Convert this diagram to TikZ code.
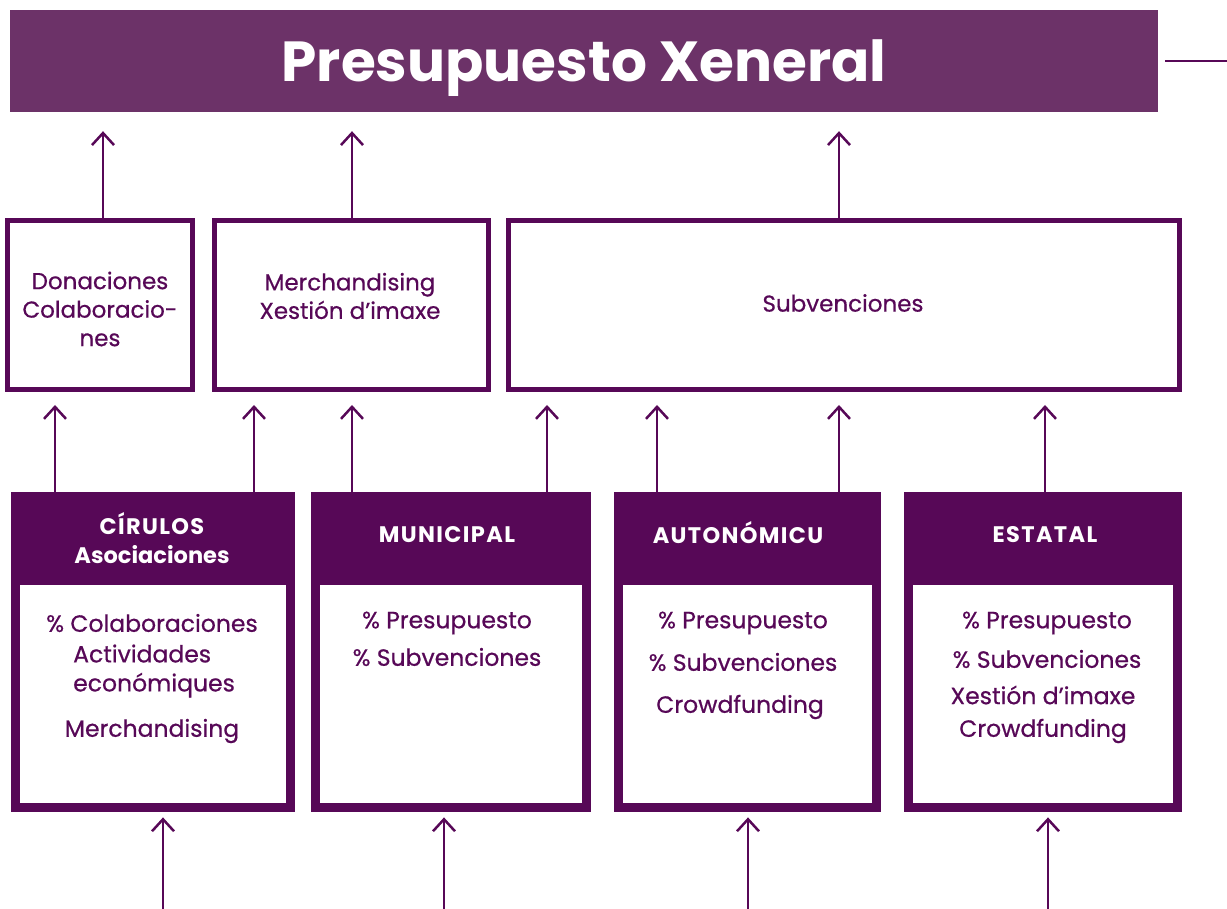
\documentclass[tikz,border=0pt]{standalone}
\usepackage{fontspec}
\setmainfont{Poppins}
\newfontfamily\medfont{Poppins}[FakeBold=0.6]
\newfontfamily\capsfont{Poppins}[LetterSpace=6]
\usetikzlibrary{arrows.meta}
\definecolor{dpurple}{RGB}{87,8,87}
\definecolor{tpurple}{RGB}{108,50,104}
\tikzset{
 conn/.style={draw=dpurple, line width=2.5pt},
 arr/.style={conn, -{Straight Barb[length=12pt,width=22pt]}},
 midbox/.style={draw=dpurple, line width=5pt, fill=white, inner sep=0pt, minimum height=169pt},
 outerbox/.style={fill=dpurple, inner sep=0pt, anchor=north west},
 innerbox/.style={fill=white, inner sep=0pt, anchor=north west},
 midtxt/.style={text=dpurple, font=\medfont\fontsize{23}{28.5}\selectfont, align=center, inner sep=0pt},
 hdtxt/.style={text=white, font=\bfseries\fontsize{22.5}{29}\selectfont, align=center, inner sep=0pt},
 hdcaps/.style={text=white, font=\capsfont\bfseries\fontsize{22.5}{29}\selectfont, align=center, inner sep=0pt},
 bodytxt/.style={text=dpurple, font=\medfont\fontsize{23.5}{29}\selectfont, align=center, inner sep=0pt},
}
\begin{document}
\begin{tikzpicture}[x=1pt,y=-1pt]
\useasboundingbox (0,0) rectangle (1227,909);
% title
\node[fill=tpurple, inner sep=0pt, minimum width=1148pt, minimum height=102pt] (title) at (584,61) {};
\node[text=white, font=\bfseries\fontsize{56.5}{60}\selectfont, inner sep=0pt] (titletxt) at (584,68) {Presupuesto Xeneral};
\coordinate (stubend) at (1227,61);
\draw[conn] ([xshift=7pt]title.east) -- (stubend);

% middle boxes
\node[midbox, minimum width=185pt] (don) at (100,305) {};
\node[midbox, minimum width=274pt] (mer) at (351.5,305) {};
\node[midbox, minimum width=671pt] (sub) at (844,305) {};
\node[midtxt] (dontxt) at (100,309) {Donaciones\\Colaboracio-\\nes};
\node[midtxt] (mertxt) at (350,296) {Merchandising\\Xestión d’imaxe};
\node[midtxt] (subtxt) at (843,303) {Subvenciones};

% arrows middle -> title
\draw[arr, shorten >=19pt] (103,0 |- don.north) -- (103,0 |- title.south);
\draw[arr, shorten >=19pt] (352,0 |- mer.north) -- (352,0 |- title.south);
\draw[arr, shorten >=19pt] (839,0 |- sub.north) -- (839,0 |- title.south);

% bottom boxes
\node[outerbox, minimum width=284pt, minimum height=320pt] (b1) at (11,492) {};
\node[innerbox, minimum width=266pt, minimum height=218pt] (i1) at (20,585) {};
\node[outerbox, minimum width=280pt, minimum height=320pt] (b2) at (311,492) {};
\node[innerbox, minimum width=262pt, minimum height=218pt] (i2) at (320,585) {};
\node[outerbox, minimum width=267pt, minimum height=320pt] (b3) at (614,492) {};
\node[innerbox, minimum width=249pt, minimum height=218pt] (i3) at (623,585) {};
\node[outerbox, minimum width=278pt, minimum height=320pt] (b4) at (904,492) {};
\node[innerbox, minimum width=260pt, minimum height=218pt] (i4) at (913,585) {};

% headers
\node[hdtxt] (h1) at (152,538) {{\capsfont\bfseries CÍRULOS}\\Asociaciones};
\node[hdcaps] (h2) at (447,535) {MUNICIPAL};
\node[hdcaps] (h3) at (738,533) {AUTONÓMICU};
\node[hdcaps] (h4) at (1045,535) {ESTATAL};

% body texts
\node[bodytxt] (t1a) at (152,623) {\% Colaboraciones};
\node[bodytxt, align=left, anchor=west] (t1b) at (73,671) {Actividades\\económiques};
\node[bodytxt] (t1c) at (152,731) {Merchandising};
\node[bodytxt] (t2a) at (447,623) {\% Presupuesto};
\node[bodytxt] (t2b) at (447,657) {\% Subvenciones};
\node[bodytxt] (t3a) at (743,623) {\% Presupuesto};
\node[bodytxt] (t3b) at (743,662) {\% Subvenciones};
\node[bodytxt] (t3c) at (740,707) {Crowdfunding};
\node[bodytxt] (t4a) at (1047,623) {\% Presupuesto};
\node[bodytxt] (t4b) at (1047,659) {\% Subvenciones};
\node[bodytxt] (t4c) at (1043,695) {Xestión d’imaxe};
\node[bodytxt] (t4d) at (1043,731) {Crowdfunding};

% arrows bottom -> middle
\draw[arr, shorten >=13pt] (55,0 |- b1.north) -- (55,0 |- don.south);
\draw[arr, shorten >=13pt] (254,0 |- b1.north) -- (254,0 |- mer.south);
\draw[arr, shorten >=13pt] (352,0 |- b2.north) -- (352,0 |- mer.south);
\draw[arr, shorten >=13pt] (547,0 |- b2.north) -- (547,0 |- sub.south);
\draw[arr, shorten >=13pt] (657,0 |- b3.north) -- (657,0 |- sub.south);
\draw[arr, shorten >=13pt] (839,0 |- b3.north) -- (839,0 |- sub.south);
\draw[arr, shorten >=13pt] (1045,0 |- b4.north) -- (1045,0 |- sub.south);

% incoming arrows
\coordinate (in1) at (163,909);
\coordinate (in2) at (444,909);
\coordinate (in3) at (748,909);
\coordinate (in4) at (1048,909);
\draw[arr, shorten >=5pt] (in1) -- (in1 |- b1.south);
\draw[arr, shorten >=5pt] (in2) -- (in2 |- b2.south);
\draw[arr, shorten >=5pt] (in3) -- (in3 |- b3.south);
\draw[arr, shorten >=5pt] (in4) -- (in4 |- b4.south);
\end{tikzpicture}
\end{document}
